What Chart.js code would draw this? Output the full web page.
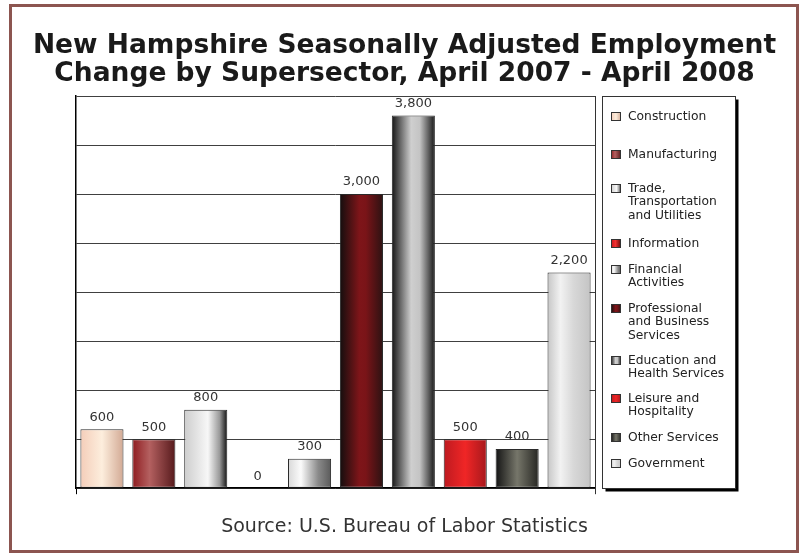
<!DOCTYPE html>
<html><head><meta charset="utf-8">
<script src="https://cdn.jsdelivr.net/npm/chart.js@4.4.1/dist/chart.umd.min.js"></script>
<style>html,body{margin:0;padding:0;background:#fff}#wrap{width:801px;height:554px;position:relative}</style>
</head><body><div id="wrap"><canvas id="c" width="801" height="554"></canvas></div>
<script>
// ---- data ----
const categories = ['Construction','Manufacturing','Trade, Transportation and Utilities','Information','Financial Activities','Professional and Business Services','Education and Health Services','Leisure and Hospitality','Other Services','Government'];
const legendLines = [['Construction'],['Manufacturing'],['Trade,','Transportation','and Utilities'],['Information'],['Financial','Activities'],['Professional','and Business','Services'],['Education and','Health Services'],['Leisure and','Hospitality'],['Other Services'],['Government']];
const employmentChange = [600,500,800,0,300,3000,3800,500,400,2200];
const titleLines = ['New Hampshire Seasonally Adjusted Employment','Change by Supersector, April 2007 - April 2008'];
const sourceText = 'Source: U.S. Bureau of Labor Statistics';
const yMin = 0, yMax = 4000, yStep = 500;

// ---- styles ----
const barGradients = [
  [[0,'#f4cdb9'],[0.5,'#fdeedd'],[1,'#d2a994']],
  [[0,'#8e1c20'],[0.4,'#b46060'],[1,'#561a1c']],
  [[0,'#cdcdcd'],[0.55,'#f7f7f7'],[0.82,'#9a9a9a'],[1,'#111111']],
  [[0,'#c0141a'],[0.45,'#f23030'],[1,'#5a0808']],
  [[0,'#d8d8d8'],[0.3,'#fbfbfb'],[0.7,'#8a8a8a'],[1,'#5a5a5a']],
  [[0,'#140e0e'],[0.45,'#7e1519'],[0.6,'#7a1418'],[1,'#2c1212']],
  [[0,'#151515'],[0.45,'#cfcfcf'],[0.65,'#c4c4c4'],[1,'#151515']],
  [[0,'#bd1a20'],[0.5,'#f02626'],[1,'#a6181c']],
  [[0,'#141414'],[0.5,'#76766a'],[1,'#262622']],
  [[0,'#c6c6c6'],[0.3,'#f2f2f2'],[0.6,'#d8d8d8'],[1,'#c4c4c4']]
];
const BAR_PCT = 0.83;
const FONT = "'DejaVu Sans', Verdana, sans-serif";
const legendItemOffsets = [20, 58, 92, 147, 173, 212, 264, 302, 341, 367];

function makeGrad(ctx, x0, x1, stops){
  const g = ctx.createLinearGradient(x0, 0, x1, 0);
  stops.forEach(s => g.addColorStop(s[0], s[1]));
  return g;
}
function barFill(c){
  const chart = c.chart, i = c.dataIndex;
  const stops = barGradients[i] || barGradients[0];
  const xs = chart.scales && chart.scales.x;
  if (!chart.chartArea || !xs || i === undefined) return stops[0][1];
  const cx = xs.getPixelForValue(i);
  const w = xs.width / categories.length * BAR_PCT;
  return makeGrad(chart.ctx, cx - w/2, cx + w/2, stops);
}

const framePlugin = {
  id: 'frame',
  beforeDraw(chart){
    const ctx = chart.ctx;
    ctx.save();
    ctx.fillStyle = '#fff';
    ctx.fillRect(0,0,chart.width,chart.height);
    ctx.strokeStyle = '#8c5550';
    ctx.lineWidth = 3;
    ctx.strokeRect(10.5, 5.5, 787, 546);
    ctx.restore();
  },
  afterDatasetsDraw(chart){
    const ctx = chart.ctx, a = chart.chartArea;
    ctx.save();
    ctx.strokeStyle = '#333';
    ctx.lineWidth = 1;
    const x = Math.round(a.right) + 0.5;
    ctx.beginPath();
    ctx.moveTo(x, a.top);
    ctx.lineTo(x, a.bottom + 6);
    ctx.stroke();
    ctx.restore();
  }
};

const labelPlugin = {
  id: 'barLabels',
  afterDatasetsDraw(chart){
    const ctx = chart.ctx;
    const meta = chart.getDatasetMeta(0);
    ctx.save();
    ctx.font = '13px ' + FONT;
    ctx.fillStyle = '#333';
    ctx.textAlign = 'center';
    ctx.textBaseline = 'middle';
    meta.data.forEach((bar, i) => {
      ctx.fillText(employmentChange[i].toLocaleString('en-US'), bar.x, bar.y - 12);
    });
    ctx.restore();
  }
};

const legendPlugin = {
  id: 'sideLegend',
  afterDraw(chart){
    const ctx = chart.ctx;
    const bx = 602.5, by = 96.5, bw = 133, bh = 392;
    ctx.save();
    ctx.fillStyle = '#000';
    ctx.fillRect(bx + 3, by + 3, bw, bh);
    ctx.fillStyle = '#fff';
    ctx.fillRect(bx, by, bw, bh);
    ctx.strokeStyle = '#333';
    ctx.lineWidth = 1;
    ctx.strokeRect(bx, by, bw, bh);
    ctx.font = '12.3px ' + FONT;
    ctx.textBaseline = 'middle';
    ctx.textAlign = 'left';
    const lh = 13.5;
    legendLines.forEach((lines, i) => {
      const y = by + legendItemOffsets[i];
      const sx = 611, sw = 10, sh = 9;
      ctx.fillStyle = makeGrad(ctx, sx, sx + sw, barGradients[i]);
      ctx.fillRect(sx, Math.round(y - sh/2), sw, sh);
      ctx.strokeStyle = '#333';
      ctx.strokeRect(sx + 0.5, Math.round(y - sh/2) + 0.5, sw - 1, sh - 1);
      ctx.fillStyle = '#222';
      lines.forEach((t, k) => ctx.fillText(t, 628, y + k * lh));
    });
    ctx.restore();
  }
};

new Chart(document.getElementById('c'), {
  type: 'bar',
  data: {
    labels: categories,
    datasets: [{
      data: employmentChange,
      backgroundColor: barFill,
      borderColor: '#2a2a2a',
      borderWidth: 1,
      borderSkipped: false,
      barPercentage: BAR_PCT,
      categoryPercentage: 1
    }]
  },
  options: {
    responsive: false,
    animation: false,
    devicePixelRatio: 1,
    layout: { padding: { left: 8, right: 0, top: 0, bottom: 0 } },
    plugins: {
      legend: { display: false },
      tooltip: { enabled: false },
      title: {
        display: true,
        text: titleLines,
        color: '#1a1a1a',
        font: { family: FONT, size: 26.5, weight: 'bold', lineHeight: 28/26.5 },
        padding: { top: 32, bottom: 8 }
      },
      subtitle: {
        display: true,
        position: 'bottom',
        text: sourceText,
        color: '#333',
        font: { family: FONT, size: 19, weight: 'normal', lineHeight: 1.2 },
        padding: { top: 21, bottom: 16 }
      }
    },
    scales: {
      x: {
        ticks: { display: false },
        grid: {
          display: true, drawOnChartArea: false, drawTicks: true, tickLength: 6,
          color: c => (c.index === 0) ? '#000' : 'rgba(0,0,0,0)'
        },
        border: { display: true, color: '#000', width: 1.5 },
        afterFit: s => { s.height = 6; }
      },
      y: {
        min: yMin, max: yMax,
        ticks: { display: false, stepSize: yStep },
        grid: { color: '#404040', lineWidth: 1, drawTicks: false },
        border: { display: true, color: '#000', width: 1.5 },
        afterFit: s => { s.width = 68; }
      },
      y2: {
        position: 'right',
        ticks: { display: false },
        grid: { display: false },
        border: { display: false },
        afterFit: s => { s.width = 206; }
      }
    }
  },
  plugins: [framePlugin, labelPlugin, legendPlugin]
});
</script>
</body></html>
